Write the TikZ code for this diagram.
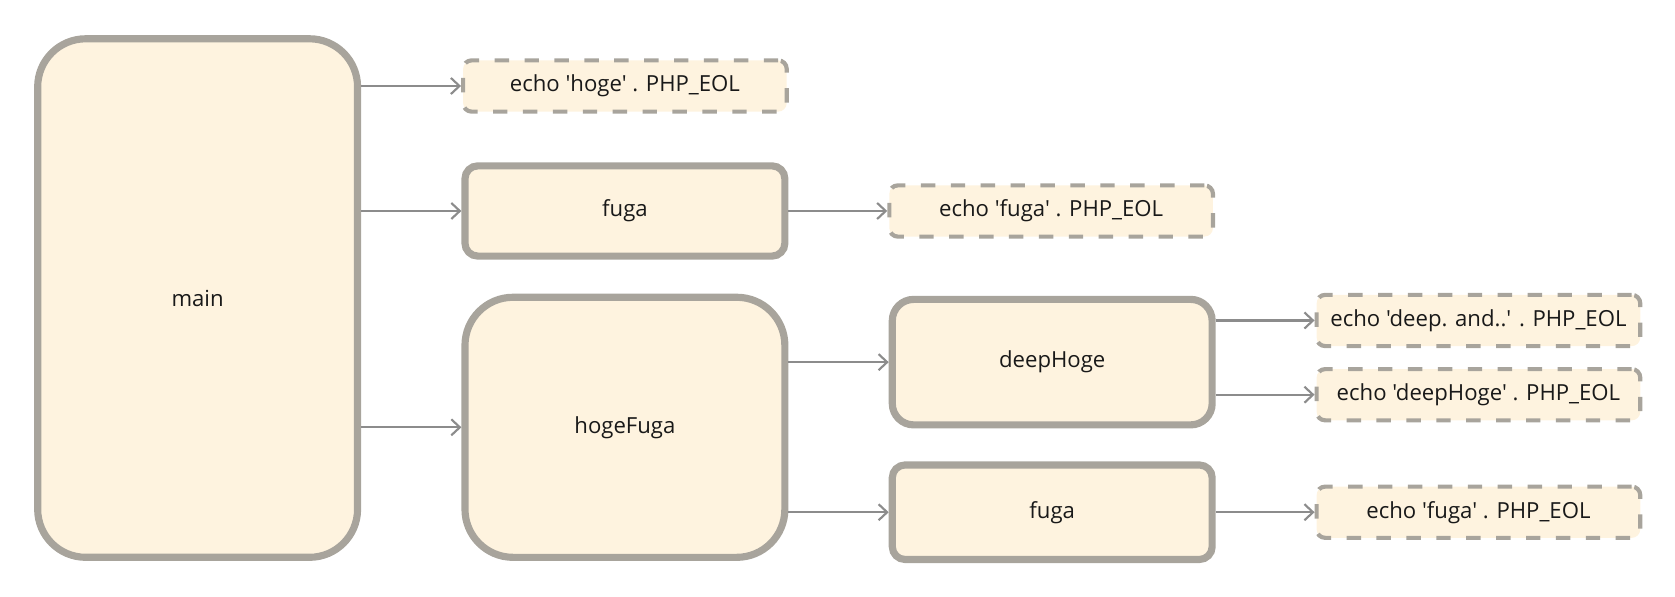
\documentclass[tikz,border=0pt]{standalone}
\usepackage{fontspec}
\setmainfont{Open Sans}[Ligatures=TeXOff]
\usetikzlibrary{arrows.meta}
\definecolor{boxfill}{HTML}{FEF3DF}
\definecolor{boxline}{HTML}{A8A49C}
\definecolor{arrowline}{HTML}{8C8C8C}

\begin{document}
\begin{tikzpicture}[x=0.02cm, y=-0.02cm, font=\fontsize{11.8}{14}\selectfont]

\useasboundingbox (0,0) rectangle (1568,558);

\begin{scope}[every node/.style={draw=boxline,fill=boxfill,line width=0.134cm,minimum width=5.99cm,inner sep=0pt,text=black!90}]
	\node[minimum height=9.71cm,rounded corners=0.9cm] (main) at (185,279) {main};
	\node[minimum height=1.69cm,rounded corners=0.24cm] (fuga) at (585,197.5) {fuga};
	\node[minimum height=4.87cm,rounded corners=0.9cm] (hf) at (585,400) {hogeFuga};
	\node[minimum height=2.35cm,rounded corners=0.4cm] (dh) at (985,339) {deepHoge};
	\node[minimum height=1.77cm,rounded corners=0.24cm] (hff) at (985,479.5) {fuga};
\end{scope}

\begin{scope}[every node/.style={draw=boxline,fill=boxfill,line width=0.078cm,dash pattern=on 0.27cm off 0.29cm,minimum width=6.06cm,minimum height=0.96cm,inner sep=0pt,rounded corners=0.16cm,text=black!90}]
	\node (mecho) at (585,80.5) {echo 'hoge' . PHP\_EOL};
	\node (fecho) at (984,197.5) {echo 'fuga' . PHP\_EOL};
	\node (dhecho1) at (1384,300) {echo 'deep. and..' . PHP\_EOL};
	\node (dhecho2) at (1384,369.5) {echo 'deepHoge' . PHP\_EOL};
	\node (hffecho) at (1384,479.5) {echo 'fuga' . PHP\_EOL};
\end{scope}

\begin{scope}[>={Straight Barb[length=0.16cm,width=0.3cm]}, every edge/.style={draw=arrowline,line width=0.04cm}]
	\path [->] (main.east |- mecho.west) edge (mecho.west);
	\path [->] (main.east |- fuga.west) edge (fuga.west);
	\path [->] (main.east |- hf.west) edge (hf.west);
	\path [->] (fuga.east |- fecho.west) edge (fecho.west);
	\path [->] (hf.east |- dh.west) edge (dh.west);
	\path [->] (hf.east |- hff.west) edge (hff.west);
	\path [->] (dh.east |- dhecho1.west) edge (dhecho1.west);
	\path [->] (dh.east |- dhecho2.west) edge (dhecho2.west);
	\path [->] (hff.east |- hffecho.west) edge (hffecho.west);
\end{scope}

\end{tikzpicture}
\end{document}
